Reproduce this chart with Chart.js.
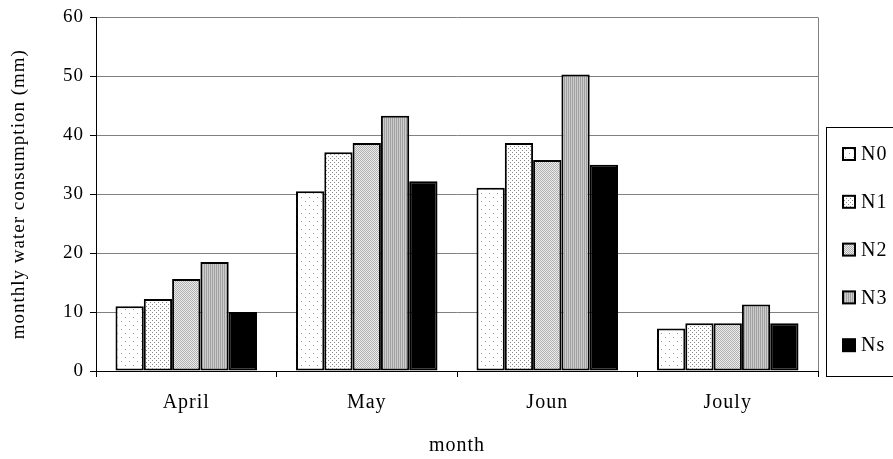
<!DOCTYPE html>
<html>
<head>
<meta charset="utf-8">
<script src="https://cdn.jsdelivr.net/npm/chart.js@4"></script>
<style>
  html, body { margin: 0; padding: 0; background: #fff; }
  #wrap { width: 893px; height: 459px; }
</style>
</head>
<body>
<div id="wrap"><canvas id="chart" width="893" height="459"></canvas></div>
<script>
// values
const months = ['April', 'May', 'Joun', 'Jouly'];
const seriesNames = ['N0', 'N1', 'N2', 'N3', 'Ns'];
const n0 = [11.0, 30.5, 31.1, 7.2];
const n1 = [12.2, 37.1, 38.7, 8.1];
const n2 = [15.6, 38.7, 35.8, 8.1];
const n3 = [18.5, 43.3, 50.3, 11.3];
const ns = [10.0, 32.2, 35.0, 8.1];
const yTicks = [0, 10, 20, 30, 40, 50, 60];

const serif = '"Liberation Serif", "Times New Roman", serif';

// small tiled fills that imitate the Excel patterns
function makePattern(size, draw) {
    const c = document.createElement('canvas');
    c.width = size; c.height = size;
    const g = c.getContext('2d');
    draw(g);
    return document.getElementById('chart').getContext('2d').createPattern(c, 'repeat');
}
const fills = [
    makePattern(8, g => {
        g.fillStyle = '#fff'; g.fillRect(0, 0, 8, 8);
        g.fillStyle = '#999'; g.fillRect(1, 1, 1, 1); g.fillRect(5, 5, 1, 1);
    }),
    makePattern(4, g => {
        g.fillStyle = '#fff'; g.fillRect(0, 0, 4, 4);
        g.fillStyle = '#888'; g.fillRect(0, 0, 1, 1); g.fillRect(2, 2, 1, 1);
    }),
    makePattern(2, g => {
        g.fillStyle = '#ececec'; g.fillRect(0, 0, 2, 2);
        g.fillStyle = '#b0b0b0'; g.fillRect(0, 0, 1, 1); g.fillRect(1, 1, 1, 1);
    }),
    makePattern(4, g => {
        g.fillStyle = '#cdcdcd'; g.fillRect(0, 0, 4, 4);
        g.fillStyle = '#a0a0a0'; g.fillRect(0, 0, 1, 4); g.fillRect(2, 0, 1, 4);
    }),
    '#000'
];

const values = [n0, n1, n2, n3, ns];
const datasets = seriesNames.map((name, i) => ({
    label: name,
    data: values[i],
    backgroundColor: fills[i],
    borderColor: '#000',
    borderWidth: 2,
    borderSkipped: false,
    barPercentage: 1,
    categoryPercentage: 0.784
}));

// a bit of tracking on all text, like the original
const spacing = {
    id: 'spacing',
    beforeDraw(chart) { chart.ctx.letterSpacing = '1px'; }
};

// legend box on the right, drawn by hand like the Excel one
const boxLegend = {
    id: 'boxLegend',
    afterDraw(chart) {
        const ctx = chart.ctx;
        const area = chart.chartArea;
        ctx.save();
        // grey frame on the right of the plot
        ctx.strokeStyle = '#808080';
        ctx.lineWidth = 1;
        ctx.beginPath();
        ctx.moveTo(area.right + 0.5, area.top);
        ctx.lineTo(area.right + 0.5, area.bottom);
        ctx.stroke();

        ctx.strokeStyle = '#000';
        ctx.strokeRect(826.5, 127.5, 80, 249);
        ctx.font = '20px ' + serif;
        ctx.textBaseline = 'middle';
        chart.data.datasets.forEach((ds, i) => {
            const cy = 154 + i * 47.8;
            ctx.fillStyle = ds.backgroundColor;
            ctx.fillRect(843, cy - 6, 12, 12);
            ctx.lineWidth = 2;
            ctx.strokeRect(843, cy - 6, 12, 12);
            ctx.fillStyle = '#000';
            ctx.fillText(ds.label, 861, cy + 1);
        });
        ctx.restore();
    }
};

new Chart(document.getElementById('chart'), {
    type: 'bar',
    data: { labels: months, datasets: datasets },
    options: {
        responsive: false,
        animation: false,
        layout: { padding: { top: 16, right: 75, bottom: 0, left: 0 } },
        plugins: {
            legend: { display: false },
            tooltip: { enabled: false }
        },
        scales: {
            x: {
                afterFit: s => { s.height = 88; },
                grid: {
                    offset: true,
                    drawOnChartArea: false,
                    tickLength: 6,
                    tickColor: '#000'
                },
                border: { color: '#000', width: 1 },
                ticks: {
                    color: '#000',
                    padding: 14,
                    font: { family: serif, size: 20 }
                },
                title: {
                    display: true,
                    text: 'month',
                    color: '#000',
                    padding: { top: 0, bottom: 1 },
                    font: { family: serif, size: 20 }
                }
            },
            y: {
                min: 0,
                max: 60,
                afterFit: s => { s.width = 96; },
                afterBuildTicks: s => { s.ticks = yTicks.map(v => ({ value: v })); },
                grid: {
                    color: '#808080',
                    lineWidth: 1,
                    tickLength: 6,
                    tickColor: '#000'
                },
                border: { color: '#000', width: 1 },
                ticks: {
                    color: '#000',
                    padding: 6,
                    font: { family: serif, size: 19 }
                },
                title: {
                    display: true,
                    text: 'monthly water consumption (mm)',
                    color: '#000',
                    padding: { top: 8, bottom: 0 },
                    font: { family: serif, size: 19 }
                }
            }
        }
    },
    plugins: [spacing, boxLegend]
});
</script>
</body>
</html>
